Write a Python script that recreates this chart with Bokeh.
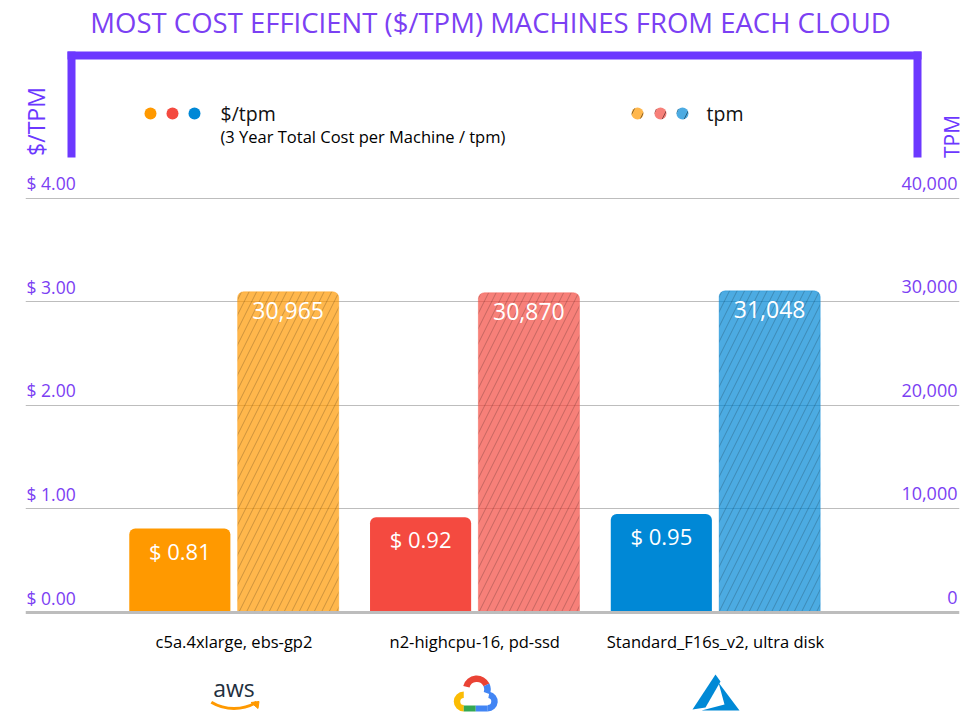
import numpy as np
from bokeh.plotting import figure
from bokeh.models import Range1d, FixedTicker, Label, BoxAnnotation, ColumnDataSource, Grid, Span
from bokeh.core.properties import value
from bokeh.embed import file_html
from bokeh.resources import INLINE

# ---------------- data ----------------
categories = ["c5a.4xlarge, ebs-gp2", "n2-highcpu-16, pd-ssd", "Standard_F16s_v2, ultra disk"]
clouds = ["aws", "gcp", "azure"]
cost_per_tpm = [0.81, 0.92, 0.95]
tpm = [30965, 30870, 31048]
left_ticks = [0, 1, 2, 3, 4]
left_tick_labels = ["$ 0.00", "$ 1.00", "$ 2.00", "$ 3.00", "$ 4.00"]
right_ticks = [0, 10000, 20000, 30000, 40000]
right_tick_labels = ["0", "10,000", "20,000", "30,000", "40,000"]
solid_colors = ["#FF9900", "#F44A40", "#0088D6"]

TITLE = "MOST COST EFFICIENT ($/TPM) MACHINES FROM EACH CLOUD"
PURPLE = "#7B40F3"
BRACKET = "#6C38FF"
FONT = "Open Sans"

# ---------------- layout (pixels) ----------------
W, H = 978, 722
FL, FR = 25, 959
PXU = 240.75          # px per category step
X0 = -(233.5 - FL) / PXU
X1 = X0 + (FR - FL) / PXU
BASE = 612
PYU = 103.6           # px per $1
Y0 = -(H - BASE) / PYU
Y1 = BASE / PYU
TPM_SCALE = 10000.0

def yd(py):
    return (BASE - py) / PYU

def xd(px):
    return X0 + (px - FL) / PXU

def xg(i, dpx):
    return i + dpx / PXU

p = figure(width=W, height=H, x_range=Range1d(X0, X1), y_range=Range1d(Y0, Y1),
           output_backend="svg", toolbar_location=None,
           x_axis_location=None, y_axis_location=None,
           min_border_left=FL, min_border_right=W - FR, min_border_top=0, min_border_bottom=0,
           outline_line_color=None, background_fill_color="white", border_fill_color="white")
p.extra_y_ranges = {"tpm": Range1d(Y0 * TPM_SCALE, Y1 * TPM_SCALE)}
p.xgrid.visible = False
p.ygrid.visible = False

grid = Grid(dimension=1, ticker=FixedTicker(ticks=left_ticks[1:]),
            grid_line_color="#BDBDBD", grid_line_width=1)
p.add_layout(grid)
p.add_layout(Span(location=0, dimension="width", line_color="#BDBDBD", line_width=3))

idx = list(range(len(categories)))
OFF = 0.225
BW = 0.42

src_cost = ColumnDataSource(dict(
    x=[i - OFF for i in idx], top=cost_per_tpm, color=solid_colors,
    label=[f"$ {v:.2f}" for v in cost_per_tpm]))
src_tpm = ColumnDataSource(dict(
    x=[i + OFF for i in idx], top=tpm, color=solid_colors,
    label=[f"{v:,}" for v in tpm]))

p.vbar(x="x", top="top", bottom=0, width=BW, source=src_cost,
       fill_color="color", line_color=None, border_radius=(6, 6, 0, 0))
p.vbar(x="x", top="top", bottom=0, width=BW, source=src_tpm, y_range_name="tpm",
       fill_color="color", fill_alpha=0.7, line_color="color", line_alpha=0.35,
       hatch_pattern="/", hatch_color="#000000", hatch_alpha=0.2, hatch_scale=15,
       hatch_weight=1, border_radius=(6, 6, 0, 0))

p.text(x="x", y="top", text="label", source=src_cost, text_color="white",
       text_font=value(FONT), text_font_size="22px", text_align="center",
       text_baseline="middle", y_offset=22)
p.text(x="x", y="top", text="label", source=src_tpm, y_range_name="tpm", text_color="white",
       text_font=value(FONT), text_font_size="23px", text_align="center",
       text_baseline="middle", y_offset=19)

# category labels
p.text(x=idx, y=[0] * len(idx), text=categories, text_color="#000000",
       text_font=value(FONT), text_font_size="16.5px",
       text_align="center", text_baseline="middle", y_offset=29)

# axis tick labels
for t, lab in zip(left_ticks, left_tick_labels):
    p.add_layout(Label(x=26 - FL, x_units="screen", y=t, y_units="data", y_offset=15,
                       text=lab, text_color=PURPLE, text_font=FONT, text_font_size="17.5px",
                       text_align="left", text_baseline="middle"))
for t, lab in zip(right_ticks, right_tick_labels):
    p.add_layout(Label(x=957 - FL, x_units="screen", y=t, y_units="data", y_range_name="tpm",
                       y_offset=15, text=lab, text_color=PURPLE, text_font=FONT,
                       text_font_size="18px", text_align="right", text_baseline="middle"))

# axis titles
p.add_layout(Label(x=35 - FL, y=H - 121, x_units="screen", y_units="screen", text="$/TPM",
                   angle=np.pi / 2, text_color=BRACKET, text_font=FONT, text_font_size="23px",
                   text_align="center", text_baseline="middle"))
p.add_layout(Label(x=951 - FL, y=H - 136, x_units="screen", y_units="screen", text="TPM",
                   angle=np.pi / 2, text_color=BRACKET, text_font=FONT, text_font_size="21px",
                   text_align="center", text_baseline="middle"))

# title
p.add_layout(Label(x=490 - FL, y=H - 22, x_units="screen", y_units="screen", text=TITLE,
                   text_color=PURPLE, text_font=FONT, text_font_size="27.5px",
                   text_align="center", text_baseline="middle"))

# bracket
def sbox(l, r, t, b):
    return BoxAnnotation(left=l - FL, right=r - FL, top=H - t, bottom=H - b,
                         left_units="screen", right_units="screen",
                         top_units="screen", bottom_units="screen",
                         fill_color=BRACKET, fill_alpha=1, line_color=None)
p.add_layout(sbox(67, 921, 51, 59))
p.add_layout(sbox(67, 75, 51, 157))
p.add_layout(sbox(913, 921, 51, 157))

# legend
p.scatter(x=[xd(150), xd(172), xd(194)], y=[yd(113)] * 3, size=12,
          fill_color=solid_colors, line_color=None)
p.scatter(x=[xd(637), xd(660), xd(682)], y=[yd(113)] * 3, size=12,
          fill_color=solid_colors, fill_alpha=0.7, line_color=None,
          hatch_pattern="/", hatch_color="#000000", hatch_alpha=0.45, hatch_scale=22, hatch_weight=1)
p.add_layout(Label(x=220 - FL, y=H - 113, x_units="screen", y_units="screen", text="$/tpm",
                   text_color="#111111", text_font=FONT, text_font_size="19.5px",
                   text_align="left", text_baseline="middle"))
p.add_layout(Label(x=220 - FL, y=H - 136, x_units="screen", y_units="screen",
                   text="(3 Year Total Cost per Machine / tpm)",
                   text_color="#000000", text_font=FONT, text_font_size="16.5px",
                   text_align="left", text_baseline="middle"))
p.add_layout(Label(x=706 - FL, y=H - 113, x_units="screen", y_units="screen", text="tpm",
                   text_color="#111111", text_font=FONT, text_font_size="19.5px",
                   text_align="left", text_baseline="middle"))

# ---------------- logos ----------------
# aws
p.text(x=[0], y=[0], text=["aws"], text_color="#232F3E", text_font=value(FONT),
       text_font_size="23px", text_align="center", text_baseline="middle", y_offset=75)
p.arc(x=[xg(0, 0)], y=[yd(664)], radius=44, radius_units="screen",
      start_angle=np.radians(239), end_angle=np.radians(301),
      line_color="#FF9900", line_width=3)
p.patch(x=[xg(0, 17), xg(0, 25), xg(0, 24)], y=[yd(702), yd(701), yd(708)],
        fill_color="#FF9900", line_color="#FF9900", line_width=1)

# google cloud
gx = 1
p.annular_wedge(x=[xg(gx, 2)], y=[yd(689)], inner_radius=7.5, outer_radius=14,
                inner_radius_units="screen", outer_radius_units="screen",
                start_angle=np.radians(25), end_angle=np.radians(165),
                fill_color="#EA4335", line_color=None)
p.annular_wedge(x=[xg(gx, 2)], y=[yd(689)], inner_radius=7.5, outer_radius=14,
                inner_radius_units="screen", outer_radius_units="screen",
                start_angle=np.radians(-20), end_angle=np.radians(25),
                fill_color="#4285F4", line_color=None)
p.annular_wedge(x=[xg(gx, 13)], y=[yd(701)], inner_radius=3.5, outer_radius=10,
                inner_radius_units="screen", outer_radius_units="screen",
                start_angle=np.radians(-90), end_angle=np.radians(80),
                fill_color="#4285F4", line_color=None)
p.annular_wedge(x=[xg(gx, -11)], y=[yd(701)], inner_radius=3.5, outer_radius=10,
                inner_radius_units="screen", outer_radius_units="screen",
                start_angle=np.radians(90), end_angle=np.radians(270),
                fill_color="#FBBC04", line_color=None)
p.rect(x=[xg(gx, -5)], y=[yd(708)], width=12, height=6, width_units="screen",
       height_units="screen", fill_color="#34A853", line_color=None)
p.rect(x=[xg(gx, 7)], y=[yd(708)], width=12, height=6, width_units="screen",
       height_units="screen", fill_color="#4285F4", line_color=None)

# azure
ax = 2
left_piece = [(-23, 17), (0, -18), (5, -11), (-10, 15)]
right_piece = [(3, -10), (24, 18), (-14, 18), (9, 12)]
for pts in (left_piece, right_piece):
    p.patch(x=[xg(ax, dx) for dx, dy in pts], y=[yd(692 + dy) for dx, dy in pts],
            fill_color="#0089D6", line_color=None)

open("out.html", "w").write(file_html(p, INLINE))
